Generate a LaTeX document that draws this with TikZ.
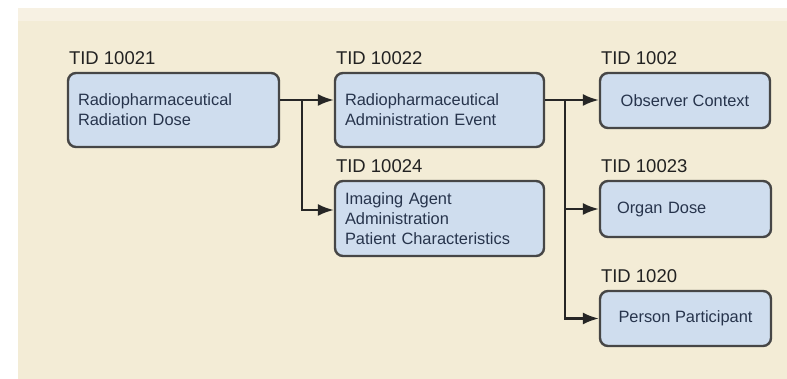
\documentclass[tikz,border=0pt]{standalone}
\usepackage{fontspec}
\setmainfont{Liberation Sans}
\usetikzlibrary{arrows.meta}
\definecolor{paper}{HTML}{F3ECD6}
\definecolor{paperband}{HTML}{F7F1E3}
\definecolor{boxfill}{HTML}{CFDDEE}
\definecolor{boxline}{HTML}{464646}
\definecolor{boxtext}{HTML}{27344C}
\definecolor{tidtext}{HTML}{222222}
\definecolor{wire}{HTML}{262626}
\begin{document}
\begin{tikzpicture}[x=1pt,y=-1pt,
  tmpl/.style={draw=boxline, line width=2.4pt, fill=boxfill, rounded corners=8pt,
    text=boxtext, font=\fontsize{16.4}{20}\selectfont, inner sep=0pt},
  tid/.style={anchor=base west, text=tidtext, font=\fontsize{18.5}{20}\selectfont, inner sep=0pt},
  link/.style={draw=wire, line width=2.2pt},
  feed/.style={link, -{Latex[length=16pt,width=12pt]}}]

% page and cream panel
\fill[white] (0,0) rectangle (787,379);
\fill[paper] (18,8) rectangle (787,379);
\fill[paperband] (18,8) rectangle (787,21);
\useasboundingbox (0,0) rectangle (787,379);

% template boxes
\node[tmpl, minimum width=211pt, minimum height=74pt, text width=191pt, align=left]
  (b1) at (173.5,110) {Radiopharmaceutical\\Radiation Dose};
\node[tmpl, minimum width=209pt, minimum height=74pt, text width=189pt, align=left]
  (b2) at (439.5,110) {Radiopharmaceutical\\Administration Event};
\node[tmpl, minimum width=209pt, minimum height=75pt, text width=189pt, align=left]
  (b4) at (439.5,218.5) {Imaging Agent\\Administration\\Patient Characteristics};
\node[tmpl, minimum width=170pt, minimum height=55pt, align=center]
  (b5) at (685,100.5) {Observer Context};
\node[tmpl, minimum width=171pt, minimum height=56pt, text width=137pt, align=left]
  (b6) at (685.5,209) {Organ Dose};
\node[tmpl, minimum width=171pt, minimum height=55pt, align=center]
  (b7) at (685.5,318.5) {Person Participant};

% template identifiers
\node[tid] (t1) at ([xshift=2pt,yshift=7pt]b1.north west) {TID 10021};
\node[tid] (t2) at ([xshift=2pt,yshift=7pt]b2.north west) {TID 10022};
\node[tid] (t4) at ([xshift=2pt,yshift=7pt]b4.north west) {TID 10024};
\node[tid] (t5) at ([xshift=2pt,yshift=7pt]b5.north west) {TID 1002};
\node[tid] (t6) at ([xshift=2pt,yshift=7pt]b6.north west) {TID 10023};
\node[tid] (t7) at ([xshift=2pt,yshift=7pt]b7.north west) {TID 1020};

% connectors
\coordinate (j1) at (302,100);
\coordinate (j1d) at (302,210);
\coordinate (j2) at (565,100);
\draw[link] (b1.east |- j1) -- (j1);
\draw[feed] (j1) -- (b2.west |- j1);
\draw[feed] (j1) -- (j1d) -- (b4.west |- j1d);
\draw[link] (b2.east |- j2) -- (j2);
\draw[feed] (j2) -- (b5.west |- j2);
\draw[feed] (j2) |- (b7.west);
\draw[feed] (j2 |- b6.west) -- (b6.west);
\end{tikzpicture}
\end{document}
